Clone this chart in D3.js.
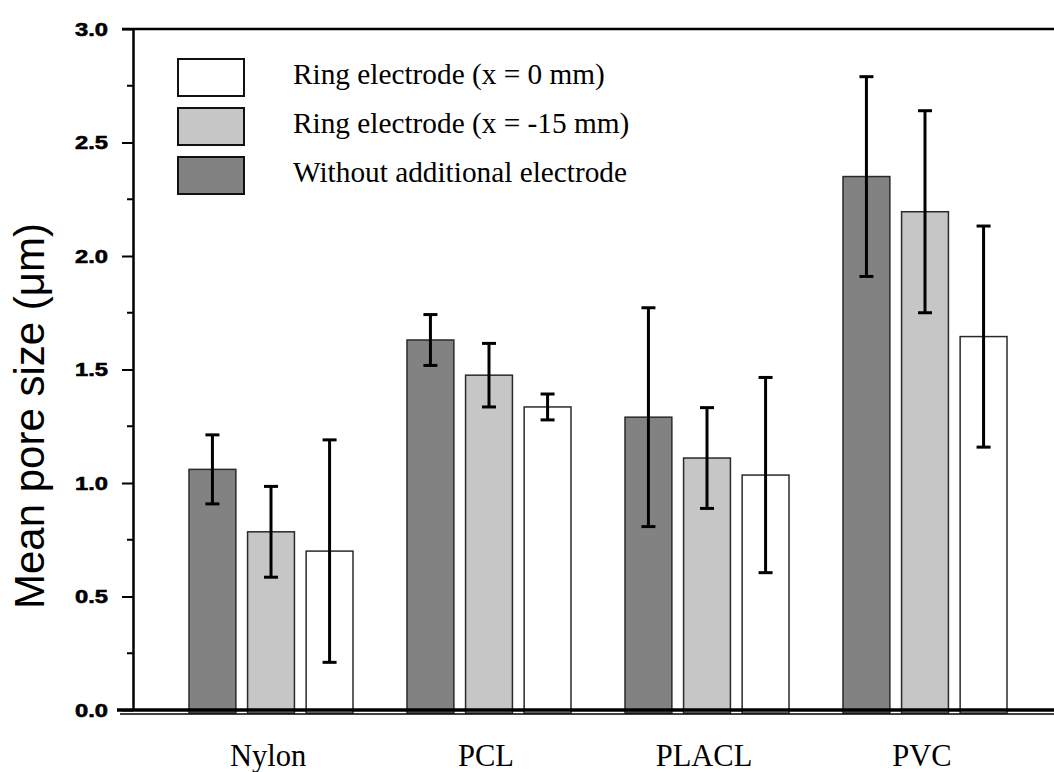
<!DOCTYPE html>
<html lang="en">
<head>
<meta charset="UTF-8">
<title>Mean pore size</title>
<script src="https://d3js.org/d3.v7.min.js"></script>
<style>
  body { margin: 0; background: #fff; }
  svg { display: block; }
</style>
</head>
<body>
<div id="chart"></div>
<script>
// data
const materials = ["Nylon", "PCL", "PLACL", "PVC"];
const seriesNames = ["Without additional electrode", "Ring electrode (x = -15 mm)", "Ring electrode (x = 0 mm)"];
const seriesFill = ["#828282", "#c6c6c6", "#ffffff"];
// mean values, one array per series (order = materials)
const withoutElectrode = [1.06, 1.63, 1.29, 2.35];
const ringMinus15 = [0.785, 1.475, 1.11, 2.195];
const ringZero = [0.70, 1.335, 1.035, 1.645];
// error (half length) per series
const errWithout = [0.152, 0.112, 0.482, 0.44];
const errMinus15 = [0.20, 0.14, 0.222, 0.445];
const errZero = [0.49, 0.057, 0.43, 0.487];
const legendOrder = [2, 1, 0];
const yTicks = [0, 0.5, 1.0, 1.5, 2.0, 2.5, 3.0];
const yMinor = [0.25, 0.75, 1.25, 1.75, 2.25, 2.75];

const width = 1054, height = 772;
const svg = d3.select("#chart").append("svg")
    .attr("width", width).attr("height", height);

const y = d3.scaleLinear().domain([0, 3]).range([710, 29]);
const x0 = d3.scalePoint().domain(materials).range([271, 925]);
const x1 = d3.scaleBand().domain(d3.range(3)).range([-82, 82]).paddingInner(0.2);

const means = [withoutElectrode, ringMinus15, ringZero];
const errs = [errWithout, errMinus15, errZero];
const rows = [];
materials.forEach((m, i) => {
    for (let s = 0; s < 3; s++) {
        rows.push({ m, s, v: means[s][i], e: errs[s][i] });
    }
});

// bars
svg.append("g").selectAll("rect")
    .data(rows)
    .join("rect")
    .attr("x", d => x0(d.m) + x1(d.s))
    .attr("y", d => y(d.v))
    .attr("width", x1.bandwidth())
    .attr("height", d => y(0) - y(d.v) + 3)
    .attr("fill", d => seriesFill[d.s])
    .attr("stroke", "#2a2a2a")
    .attr("stroke-width", 1.5);

// error bars
const eb = svg.append("g").attr("stroke", "#000").attr("stroke-width", 3);
rows.forEach(d => {
    const cx = x0(d.m) + x1(d.s) + x1.bandwidth() / 2;
    eb.append("line").attr("x1", cx).attr("x2", cx)
        .attr("y1", y(d.v + d.e)).attr("y2", y(d.v - d.e));
    [d.v + d.e, d.v - d.e].forEach(v => {
        eb.append("line").attr("x1", cx - 7).attr("x2", cx + 7)
            .attr("y1", y(v)).attr("y2", y(v));
    });
});

// frame: top line and zero line
svg.append("line").attr("x1", 122).attr("x2", width)
    .attr("y1", y(3)).attr("y2", y(3))
    .attr("stroke", "#000").attr("stroke-width", 2.5);
svg.append("line").attr("x1", 120).attr("x2", width)
    .attr("y1", y(0) + 4).attr("y2", y(0) + 4)
    .attr("stroke", "#000").attr("stroke-width", 1.5);
svg.append("line").attr("x1", 117).attr("x2", width)
    .attr("y1", y(0)).attr("y2", y(0))
    .attr("stroke", "#000").attr("stroke-width", 3.5);

// y axis
const yAxis = svg.append("g")
    .attr("transform", "translate(133,0)")
    .call(d3.axisLeft(y).tickValues(yTicks).tickFormat(d3.format(".1f"))
        .tickSize(11).tickSizeOuter(0).tickPadding(14));
yAxis.select(".domain").attr("stroke-width", 2.5);
yAxis.selectAll(".tick line").attr("stroke-width", 2);
yAxis.selectAll(".tick text")
    .attr("font-family", "Arial, 'Liberation Sans', sans-serif")
    .attr("font-weight", "bold")
    .attr("font-size", 19)
    .attr("textLength", 33)
    .attr("lengthAdjust", "spacingAndGlyphs")
    .attr("fill", "#000")
    .attr("stroke", "#000")
    .attr("stroke-width", 0.6);

svg.append("g").selectAll("line")
    .data(yMinor)
    .join("line")
    .attr("x1", 127).attr("x2", 133)
    .attr("y1", d => y(d)).attr("y2", d => y(d))
    .attr("stroke", "#000").attr("stroke-width", 2);

// y title
svg.append("text")
    .attr("transform", "translate(44,416) rotate(-90)")
    .attr("text-anchor", "middle")
    .attr("font-family", "Arial, 'Liberation Sans', sans-serif")
    .attr("font-size", 42)
    .text("Mean pore size (\u03bcm)");

// category labels
svg.append("g").selectAll("text")
    .data(materials)
    .join("text")
    .attr("x", d => x0(d) - 3)
    .attr("y", 766)
    .attr("text-anchor", "middle")
    .attr("font-family", "'Liberation Serif', 'Times New Roman', serif")
    .attr("font-size", 30.5)
    .text(d => d);

// legend
const legend = svg.append("g").selectAll("g")
    .data(legendOrder)
    .join("g")
    .attr("transform", (d, i) => `translate(178,${59 + i * 49})`);
legend.append("rect")
    .attr("width", 66).attr("height", 37)
    .attr("fill", d => seriesFill[d])
    .attr("stroke", "#111").attr("stroke-width", 2);
legend.append("text")
    .attr("x", 115).attr("y", 25)
    .attr("font-family", "'Liberation Serif', 'Times New Roman', serif")
    .attr("font-size", 29.3)
    .text(d => seriesNames[d]);
</script>
</body>
</html>
